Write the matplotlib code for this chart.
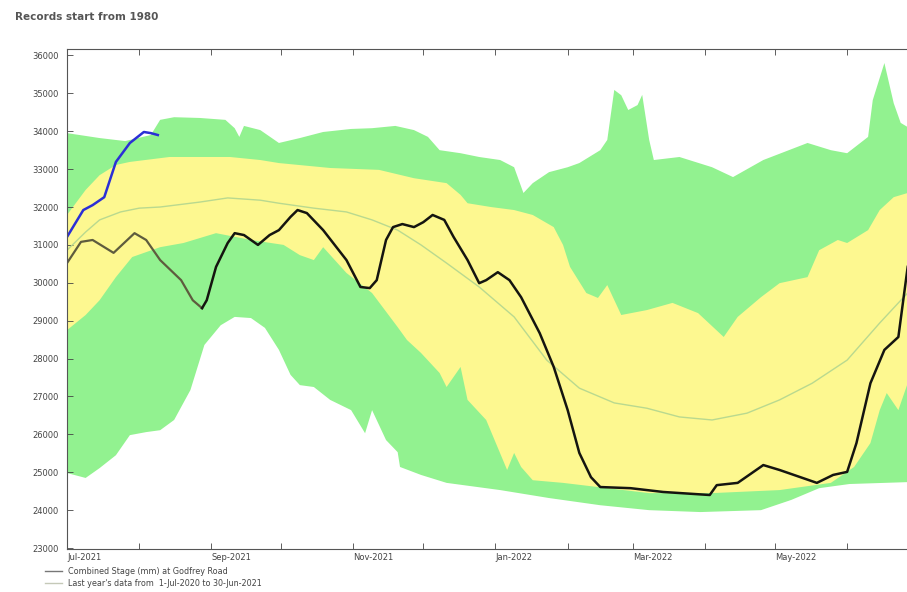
import numpy as np
import pandas as pd
import matplotlib
matplotlib.use("Agg")
import matplotlib.pyplot as plt
import matplotlib.dates as mdates
from matplotlib.lines import Line2D

# Season starts 1 July; all day values are days since then
season_start = pd.Timestamp("2021-07-01")
label_months = pd.date_range("2021-07-01", "2022-05-01", freq="2MS")

# Historical maximum (upper edge of green band)
max_day = [0, 14, 25, 36, 40, 46, 57, 68, 72, 74, 76, 83, 91, 100, 110, 122, 131, 141, 149, 155,
           160, 169, 177, 186, 192, 194, 196, 200, 207, 215, 220, 229, 232, 235, 238, 241, 245, 247,
           250, 252, 263, 277, 286, 299, 318, 328, 335, 344, 346, 351, 355, 358, 361, 365]
max_val = [33950, 33820, 33740, 33900, 34300, 34370, 34350, 34300, 34080, 33850, 34140, 34030,
           33690, 33820, 33980, 34060, 34080, 34140, 34030, 33850, 33500, 33420, 33320, 33240,
           33050, 32710, 32370, 32630, 32920, 33050, 33160, 33500, 33770, 35090, 34950, 34560,
           34690, 34960, 33770, 33240, 33320, 33050, 32790, 33240, 33690, 33500, 33420, 33850,
           34820, 35800, 34740, 34220, 34110, 34110]

# Upper percentile (top of yellow band)
upper_day = [0, 8, 14, 21, 27, 44, 70, 83, 91, 113, 134, 149, 163, 169, 172, 182, 192, 200, 209,
             213, 216, 223, 228, 232, 238, 249, 260, 271, 282, 288, 298, 306, 318, 323, 331, 335,
             344, 349, 355, 361, 365]
upper_val = [31790, 32450, 32840, 33110, 33190, 33320, 33320, 33240, 33160, 33030, 32980, 32760,
             32630, 32320, 32100, 32000, 31920, 31790, 31470, 31000, 30420, 29730, 29600, 29940,
             29150, 29280, 29470, 29200, 28570, 29100, 29620, 29990, 30150, 30860, 31130, 31050,
             31390, 31920, 32260, 32370, 32450]

# Median
median_day = [0, 8, 14, 23, 31, 40, 57, 69, 83, 91, 106, 120, 131, 142, 152, 163, 177, 192, 206,
              220, 235, 249, 263, 277, 292, 306, 320, 335, 349, 357, 361, 365]
median_val = [30860, 31340, 31660, 31870, 31970, 32000, 32130, 32240, 32180, 32100, 31970, 31870,
              31660, 31390, 31000, 30520, 29890, 29100, 27960, 27220, 26830, 26690, 26460, 26380,
              26560, 26910, 27350, 27960, 28940, 29470, 29730, 29940]

# Lower percentile (bottom of yellow band)
lower_day = [0, 8, 14, 21, 28, 40, 50, 64, 79, 93, 100, 106, 110, 120, 131, 142, 146, 152, 160,
             163, 169, 172, 180, 189, 192, 195, 200, 213, 228, 250, 277, 306, 328, 338, 345, 349,
             352, 357, 361, 365]
lower_val = [28750, 29150, 29540, 30150, 30680, 30940, 31050, 31310, 31130, 31000, 30730, 30600,
             30940, 30260, 29730, 28830, 28490, 28150, 27620, 27250, 27780, 26910, 26380, 25060,
             25510, 25140, 24790, 24720, 24610, 24450, 24450, 24530, 24720, 25140, 25770, 26640,
             27090, 26640, 27350, 27570]

# Historical minimum (lower edge of green band)
min_day = [0, 8, 14, 21, 27, 34, 40, 46, 53, 59, 66, 72, 79, 85, 91, 96, 100, 106, 113, 122, 128,
           131, 137, 142, 143, 152, 163, 186, 207, 229, 250, 272, 298, 311, 323, 336, 361, 365]
min_val = [24980, 24850, 25110, 25450, 25980, 26060, 26110, 26380, 27170, 28360, 28880, 29100,
           29070, 28810, 28230, 27570, 27300, 27250, 26910, 26640, 26030, 26640, 25850, 25530,
           25140, 24930, 24720, 24530, 24320, 24130, 24000, 23950, 24000, 24270, 24580, 24690,
           24740, 24740]

# Combined Stage (mm) at Godfrey Road, current season
stage_day = [0, 6, 11, 20, 29, 34, 40, 49, 54, 58, 60, 64, 69, 72, 76, 82, 87, 91, 96, 99, 103,
             110, 120, 126, 130, 133, 137, 140, 144, 149, 153, 157, 162, 166, 172, 177, 180, 185,
             190, 195, 203, 209, 215, 220, 225, 229, 242, 256, 276, 279, 288, 299, 306, 322, 329,
             335, 339, 345, 351, 357, 361]
stage_val = [30520, 31080, 31130, 30790, 31310, 31130, 30600, 30070, 29540, 29330, 29540, 30420,
             31050, 31310, 31260, 31000, 31260, 31390, 31740, 31920, 31840, 31390, 30600, 29890,
             29860, 30070, 31130, 31470, 31550, 31470, 31600, 31790, 31660, 31210, 30600, 29990,
             30070, 30280, 30070, 29620, 28670, 27780, 26640, 25510, 24870, 24610, 24580, 24480,
             24400, 24660, 24720, 25190, 25060, 24720, 24930, 25010, 25770, 27350, 28230, 28570,
             30420]
# index where the early (grey) part of the trace meets the black part
split_idx = 9

# Highlighted trace at the start of the season
blue_day = [0, 7, 11, 16, 21, 27, 33, 36, 39]
blue_val = [31210, 31920, 32050, 32260, 33190, 33690, 33980, 33950, 33900]


def to_dates(days):
    return (season_start + pd.to_timedelta(np.asarray(days), unit="D")).values


fig = plt.figure(figsize=(9.07, 5.92), dpi=100)
ax = fig.add_axes([67 / 907, 1 - 549 / 592, 850 / 907, 500 / 592])

green = "#92f290"
yellow = "#fdf890"

# outer green envelope, then yellow band on top
ax.fill(np.concatenate([to_dates(max_day), to_dates(min_day)[::-1]]),
        np.concatenate([max_val, min_val[::-1]]), color=green, lw=0)
ax.fill(np.concatenate([to_dates(upper_day), to_dates(lower_day)[::-1]]),
        np.concatenate([upper_val, lower_val[::-1]]), color=yellow, lw=0)

ax.plot(to_dates(median_day), median_val, color="#b9d98f", lw=1.0)

sd = to_dates(stage_day)
ax.plot(sd[:split_idx + 1], stage_val[:split_idx + 1], color="#5e5c3e", lw=1.6)
ax.plot(sd[split_idx:], stage_val[split_idx:], color="#151510", lw=1.8)
ax.plot(to_dates(blue_day), blue_val, color="#2b2fd6", lw=1.8)

ax.set_xlim(season_start, season_start + pd.Timedelta(days=365))
ax.set_ylim(22975, 36170)

ax.yaxis.set_major_locator(plt.MultipleLocator(1000))
ax.yaxis.set_major_formatter(plt.FormatStrFormatter("%d"))
ax.xaxis.set_major_locator(plt.FixedLocator(mdates.date2num(label_months)))
ax.xaxis.set_minor_locator(mdates.MonthLocator())
ax.xaxis.set_major_formatter(mdates.DateFormatter("%b-%Y"))

ax.tick_params(axis="both", which="both", direction="in", labelsize=6, colors="#444444",
               top=True, right=False, width=0.6)
ax.tick_params(axis="y", length=4, pad=6)
ax.tick_params(axis="x", which="major", length=4, pad=3)
ax.tick_params(axis="x", which="minor", length=4)
for lbl in ax.get_xticklabels():
    lbl.set_horizontalalignment("left")

for side in ["left", "bottom", "top"]:
    ax.spines[side].set_color("#555555")
    ax.spines[side].set_linewidth(0.8)
ax.spines["right"].set_visible(False)

fig.text(15 / 907, 1 - 17 / 592, "Records start from 1980", fontsize=7.5, fontweight="bold",
         color="#555555", va="center", ha="left")

# legend under the axis
fig.add_artist(Line2D([45 / 907, 62 / 907], [1 - 571 / 592] * 2, color="#777777", lw=1.0))
fig.add_artist(Line2D([45 / 907, 62 / 907], [1 - 583 / 592] * 2, color="#c5c9b8", lw=1.0))
fig.text(68 / 907, 1 - 571 / 592, "Combined Stage (mm) at Godfrey Road", fontsize=5.8,
         color="#444444", va="center")
fig.text(68 / 907, 1 - 583 / 592, "Last year's data from  1-Jul-2020 to 30-Jun-2021", fontsize=5.8,
         color="#444444", va="center")

fig.savefig("out.png", dpi=100)
